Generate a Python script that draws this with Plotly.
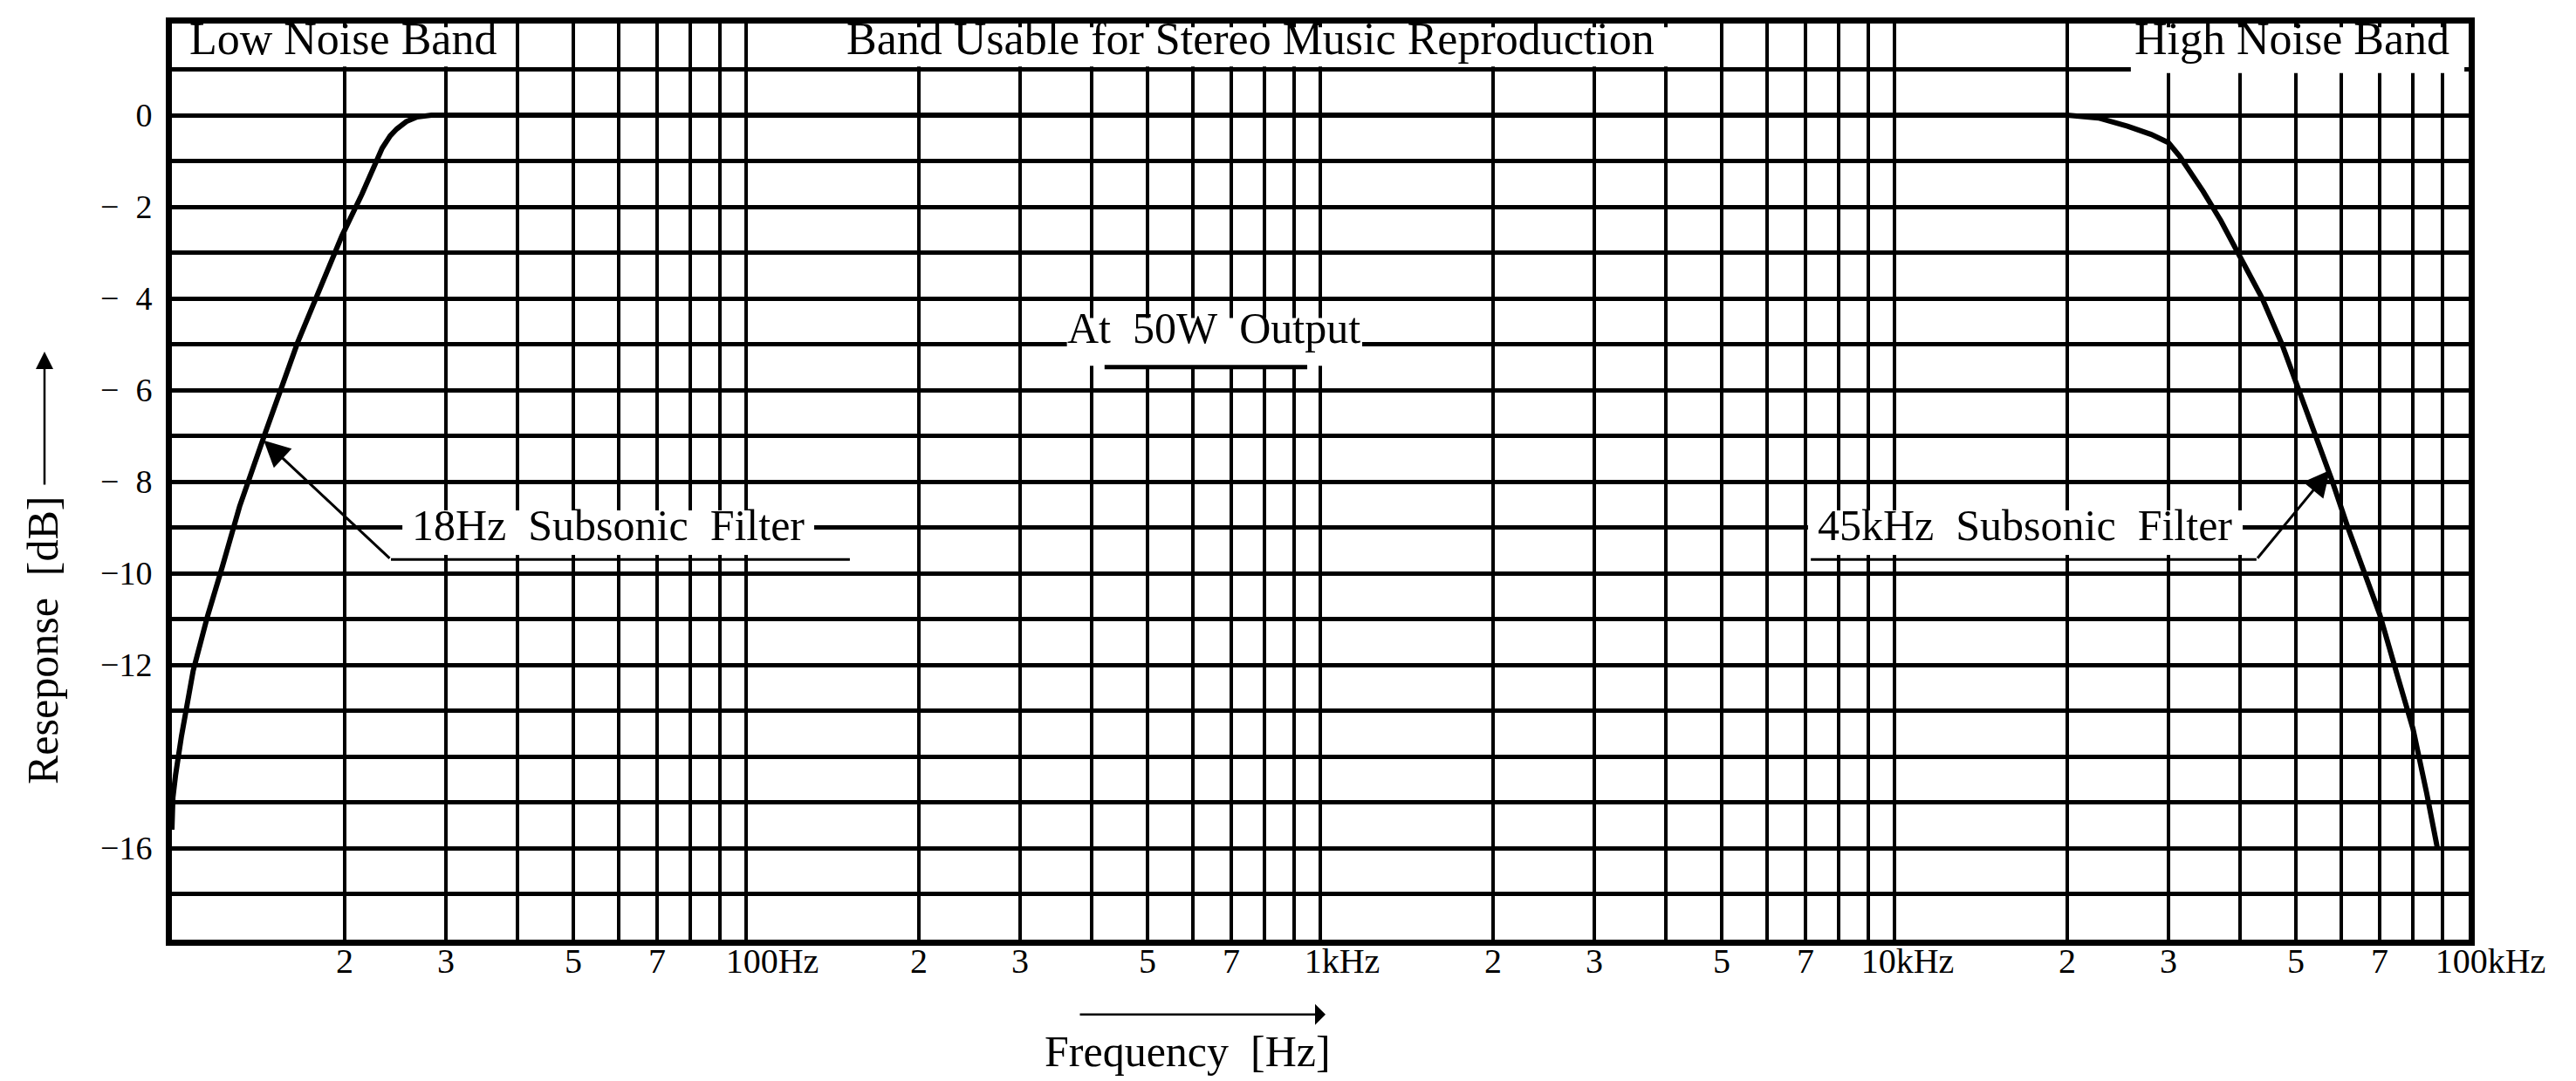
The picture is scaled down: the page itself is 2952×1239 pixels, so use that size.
import math
import plotly.graph_objects as go

# ---------------- data ----------------
low_freq_hz = [10, 10.04, 10.15, 10.39, 10.89, 11.54, 12.24, 13.12, 14.49, 15.45, 16.56,
               17.98, 19.78, 21.42, 22.4, 23.24, 24.0, 24.64, 25.6, 26.73, 28.3]
low_resp_db = [-15.6, -14.9, -14.4, -13.56, -12.13, -10.93, -9.86, -8.54, -6.99, -6.03, -4.96,
               -3.88, -2.63, -1.73, -1.2, -0.72, -0.45, -0.30, -0.14, -0.04, 0.0]

high_freq_hz = [20000, 22650, 25460, 28000, 30000, 31400, 34500, 37000, 39600, 43700,
                47300, 50600, 54100, 57900, 61600, 65500, 70000, 75000, 80000, 84500, 88200]
high_resp_db = [0.0, -0.06, -0.24, -0.42, -0.6, -0.9, -1.67, -2.3, -3.0, -4.0,
                -5.0, -6.0, -7.0, -8.0, -9.0, -9.95, -10.9, -12.2, -13.4, -14.8, -16.0]

grid_freq_hz = [m * 10 ** d for d in range(1, 5) for m in range(1, 10)] + [100000]
x_tick_values = [20, 30, 50, 70, 100, 200, 300, 500, 700, 1000,
                 2000, 3000, 5000, 7000, 10000, 20000, 30000, 50000, 70000, 100000]
x_tick_labels = ["2", "3", "5", "7", "100Hz", "2", "3", "5", "7", "1kHz",
                 "2", "3", "5", "7", "10kHz", "2", "3", "5", "7", "100kHz"]
grid_db = list(range(-17, 2))
y_tick_values = [0, -2, -4, -6, -8, -10, -12, -16]
y_tick_labels = ["0", "\u2212\u20072", "\u2212\u20074", "\u2212\u20076", "\u2212\u20078",
                 "\u221210", "\u221212", "\u221216"]

band_labels = ["Low Noise Band", "Band Usable for Stereo Music Reproduction", "High Noise Band"]
output_label = "At\u00a0\u00a050W\u00a0\u00a0Output"
low_filter_label = "18Hz\u00a0\u00a0Subsonic\u00a0\u00a0Filter"
high_filter_label = "45kHz\u00a0\u00a0Subsonic\u00a0\u00a0Filter"

SERIF = "Liberation Serif, Times New Roman, serif"
W, H = 2952, 1239
ML, MR, MT, MB = 189, 131, 16, 170

freq = low_freq_hz + high_freq_hz
resp = low_resp_db + high_resp_db

# label padding to put decade labels to the right of their grid line
pad = {"100Hz": 6, "1kHz": 5, "10kHz": 3, "100kHz": 5}
lab_map = {v: ("\u00a0" * pad.get(t, 0)) + t for v, t in zip(x_tick_values, x_tick_labels)}
x_text = [lab_map.get(v, "") for v in grid_freq_hz]
ylab_map = dict(zip(y_tick_values, y_tick_labels))
y_text = [ylab_map.get(v, "") for v in grid_db]

fig = go.Figure()
fig.add_trace(go.Scatter(x=freq, y=resp, mode="lines",
                         line=dict(color="black", width=6, shape="linear"),
                         hoverinfo="skip", showlegend=False))

fig.update_layout(
    width=W, height=H,
    margin=dict(l=ML, r=MR, t=MT, b=MB, pad=0),
    paper_bgcolor="white", plot_bgcolor="white",
    showlegend=False,
    font=dict(family=SERIF, color="black", size=40),
    xaxis=dict(type="log", range=[1, 5], tickmode="array", tickvals=grid_freq_hz, ticktext=x_text,
               tickangle=0, ticklabeloverflow="allow",
               showgrid=True, gridcolor="black", gridwidth=4, zeroline=False,
               showline=True, linecolor="black", linewidth=7, mirror=True,
               ticks="", ticklabelstandoff=-17, tickfont=dict(family=SERIF, size=40, color="black"),
               fixedrange=True),
    yaxis=dict(range=[-18, 2], tickmode="array", tickvals=grid_db, ticktext=y_text,
               showgrid=True, gridcolor="black", gridwidth=5, zeroline=False,
               showline=True, linecolor="black", linewidth=7, mirror=True,
               ticks="", ticklabelstandoff=8, tickfont=dict(family=SERIF, size=38, color="black"),
               fixedrange=True),
)

shapes = []
def mask(x0, x1, y0, y1):
    shapes.append(dict(type="rect", xref="x", yref="y", x0=x0, x1=x1, y0=y0, y1=y1,
                       fillcolor="white", line=dict(width=0), layer="above"))

def seg(x0, y0, x1, y1, w=3):
    shapes.append(dict(type="line", xref="x", yref="y", x0=x0, y0=y0, x1=x1, y1=y1,
                       line=dict(color="black", width=w), layer="above"))

# top band row masks
mask(10.2, 39.5, 1.06, 1.92)
mask(101.5, 4920, 1.06, 1.92)
mask(25800, 98300, 0.92, 1.92)
# text masks
mask(362, 1183, -5.47, -4.43)
mask(25.2, 131.4, -9.6, -8.63)
mask(7070, 40400, -9.6, -8.63)
# underlines
seg(421, -5.5, 949, -5.5, w=5)
seg(24.07, -9.7, 151.6, -9.7)
seg(7150, -9.7, 42700, -9.7)
fig.update_layout(shapes=shapes)

L = math.log10
ann = []
tf = dict(family=SERIF, size=52, color="black")
ann.append(dict(x=1.0274, y=1.66, xref="x", yref="y", text=band_labels[0], showarrow=False,
                xanchor="left", yanchor="middle", font=tf))
ann.append(dict(x=2.878, y=1.66, xref="x", yref="y", text=band_labels[1], showarrow=False,
                xanchor="center", yanchor="middle", font=tf))
ann.append(dict(x=4.9696, y=1.66, xref="x", yref="y", text=band_labels[2], showarrow=False,
                xanchor="right", yanchor="middle", font=tf))
ann.append(dict(x=2.8146, y=-4.64, xref="x", yref="y", text=output_label, showarrow=False,
                xanchor="center", yanchor="middle", font=dict(family=SERIF, size=50, color="black")))
ann.append(dict(x=L(57.5), y=-8.95, xref="x", yref="y", text=low_filter_label, showarrow=False,
                xanchor="center", yanchor="middle", font=dict(family=SERIF, size=50, color="black")))
ann.append(dict(x=L(16900), y=-8.95, xref="x", yref="y", text=high_filter_label, showarrow=False,
                xanchor="center", yanchor="middle", font=dict(family=SERIF, size=50, color="black")))
# leader arrows
ann.append(dict(x=L(14.45), y=-7.1, xref="x", yref="y", ax=L(24.07), ay=-9.7, axref="x", ayref="y",
                text="", showarrow=True, arrowhead=2, arrowsize=2, arrowwidth=3, arrowcolor="black",
                standoff=0, startstandoff=0))
ann.append(dict(x=L(57300), y=-7.75, xref="x", yref="y", ax=L(42700), ay=-9.7, axref="x", ayref="y",
                text="", showarrow=True, arrowhead=2, arrowsize=2, arrowwidth=3, arrowcolor="black",
                standoff=0, startstandoff=0))
# axis titles
pw, ph = W - ML - MR, H - MT - MB
def px(xpix):
    return (xpix - ML) / pw
def py(ypix):
    return (H - MB - ypix) / ph
ann.append(dict(x=px(41), y=py(725), xref="paper", yref="paper",
                text="Reseponse\u00a0\u00a0[dB]", textangle=-90, showarrow=False,
                xanchor="center", yanchor="middle", font=dict(family=SERIF, size=50, color="black")))
ann.append(dict(x=px(43), y=py(393), xref="paper", yref="paper", ax=0, ay=154,
                text="", showarrow=True, arrowhead=2, arrowsize=1.6, arrowwidth=2.5,
                arrowcolor="black", standoff=0, startstandoff=0))
ann.append(dict(x=px(1353), y=py(1197), xref="paper", yref="paper",
                text="Frequency\u00a0\u00a0[Hz]", showarrow=False,
                xanchor="center", yanchor="middle", font=dict(family=SERIF, size=50, color="black")))
ann.append(dict(x=px(1511), y=py(1155), xref="paper", yref="paper", ax=-283, ay=0,
                text="", showarrow=True, arrowhead=1, arrowsize=1.6, arrowwidth=2.5,
                arrowcolor="black", standoff=0, startstandoff=0))
fig.update_layout(annotations=ann)

fig.write_html("out.html")
